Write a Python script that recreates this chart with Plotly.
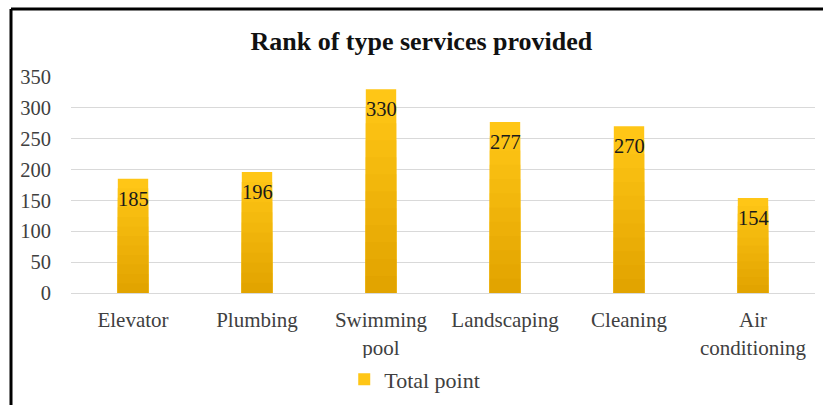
import plotly.graph_objects as go

categories = ["Elevator", "Plumbing", "Swimming<br>pool", "Landscaping", "Cleaning", "Air<br>conditioning"]
values = [185, 196, 330, 277, 270, 154]
series_name = "Total point"
y_ticks = [0, 50, 100, 150, 200, 250, 300, 350]

FONT = "Liberation Serif, Times New Roman, serif"

# gradient layers (top colour -> bottom colour)
top_rgb = (255, 198, 22)
bot_rgb = (226, 164, 0)
n_layers = 12

fig = go.Figure()
for i in range(n_layers):
    frac = 1 - i / n_layers
    t = i / (n_layers - 1)
    c = tuple(round(top_rgb[k] + (bot_rgb[k] - top_rgb[k]) * t) for k in range(3))
    fig.add_trace(go.Bar(
        x=categories, y=[v * frac for v in values],
        marker=dict(color="rgb(%d,%d,%d)" % c, line=dict(width=0)),
        name=series_name, showlegend=(i == 0), legendgroup="g",
        hoverinfo="skip",
    ))

annotations = [
    dict(x=c, y=v, xref="x", yref="y", text=str(v), showarrow=False,
         yanchor="top", yshift=-7, font=dict(family=FONT, size=20.5, color="#1a1a1a"))
    for c, v in zip(categories, values)
]

L, R, T, B = 71, 8, 77, 112
W, H = 823, 405
pw, ph = W - L - R, H - T - B

def px_x(x):
    return (x - L) / pw

def px_y(y):
    return 1 - (y - T) / ph

fig.update_layout(
    width=W, height=H,
    margin=dict(l=L, r=R, t=T, b=B, autoexpand=False),
    barmode="overlay", bargap=0.755,
    paper_bgcolor="white", plot_bgcolor="white",
    font=dict(family=FONT, size=18, color="#404040"),
    title=dict(text="<b>Rank of type services provided</b>", x=0.512, xanchor="center",
               y=0.9, yanchor="middle", font=dict(family=FONT, size=26, color="#111111")),
    showlegend=True,
    legend=dict(orientation="h", x=0.462, xanchor="center", y=-0.4, yanchor="middle",
                font=dict(family=FONT, size=22, color="#404040"), itemwidth=30),
    yaxis=dict(range=[0, 350], tickvals=y_ticks, showgrid=True, gridcolor="#d9d9d9",
               gridwidth=1, zeroline=False, showline=False, ticklabelstandoff=19,
               automargin=False,
               tickfont=dict(family=FONT, size=20.5, color="#404040")),
    xaxis=dict(showline=True, linecolor="#d9d9d9", linewidth=1, ticks="",
               ticklabelstandoff=8, automargin=False,
               tickfont=dict(family=FONT, size=21, color="#404040")),
    annotations=annotations,
    shapes=[
        dict(type="line", xref="paper", yref="paper", x0=px_x(11), x1=px_x(830),
             y0=px_y(9), y1=px_y(9), line=dict(color="black", width=3)),
        dict(type="line", xref="paper", yref="paper", x0=px_x(11), x1=px_x(11),
             y0=px_y(9), y1=px_y(420), line=dict(color="black", width=3)),
    ],
)

fig.write_html("out.html")
